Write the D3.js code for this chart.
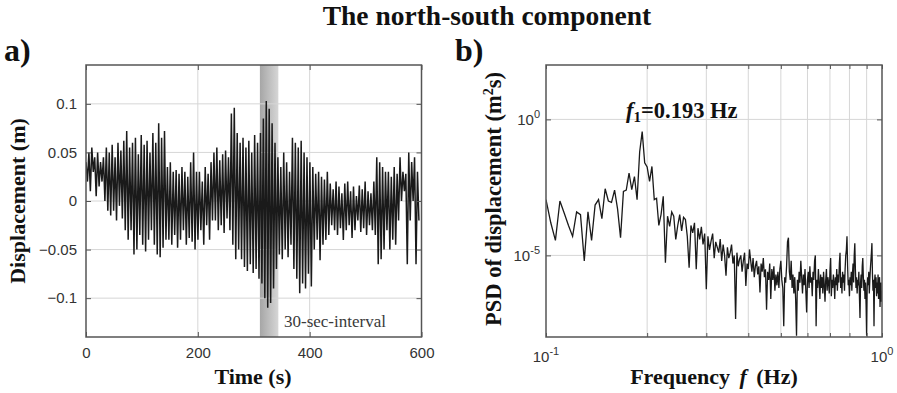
<!DOCTYPE html>
<html>
<head>
<meta charset="utf-8">
<script src="https://cdn.jsdelivr.net/npm/d3@7"></script>
<style>
  body { margin: 0; background: #fff; }
  svg { display: block; }
</style>
</head>
<body>
<div id="chart"></div>
<script>
// time series, one peak and one trough per swing
const timeTicks = [0, 200, 400, 600];
const dispTicks = [-0.1, -0.05, 0, 0.05, 0.1];
const swingStep = 2.6; // s between a peak and the next trough
const dispPeaks = [
  0.04, 0.05, 0.055, 0.045, 0.05, 0.04, 0.045, 0.055,
  0.05, 0.058, 0.045, 0.06, 0.052, 0.062,
  0.072, 0.055, 0.06, 0.065, 0.048, 0.068, 0.058, 0.062, 0.05, 0.07, 0.06, 0.08, 0.065, 0.072,
  0.035, 0.04, 0.03, 0.032, 0.028, 0.035, 0.03, 0.025, 0.04, 0.05, 0.03,
  0.03, 0.02, 0.035, 0.028, 0.04,
  0.05, 0.055, 0.042, 0.048, 0.052, 0.045,
  0.09, 0.096, 0.07,
  0.06, 0.065, 0.055, 0.062, 0.05, 0.068, 0.06,
  0.07, 0.085, 0.103, 0.095, 0.08, 0.06,
  0.045, 0.035, 0.05, 0.04, 0.03,
  0.065, 0.06, 0.055, 0.062, 0.05, 0.045, 0.04,
  0.035, 0.028, 0.03, 0.025, 0.022, 0.03,
  0.018, 0.012, 0.02, 0.015, 0.008, 0.018, 0.02, 0.01, 0.015, 0.005, 0.016, 0.012, 0.02, 0.01, 0.008,
  0.02, 0.045, 0.04, 0.035, 0.03,
  0.03, 0.025, 0.035, 0.028,
  0.045, 0.03, 0.028, 0.05, 0.04, 0.045, 0.03
];
const dispTroughs = [
  0.02, 0.01, 0.03, 0.005, 0.015, 0.02, 0.0, -0.01,
  -0.015, -0.01, -0.02, -0.005, -0.018, -0.03,
  -0.04, -0.03, -0.055, -0.05, -0.035, -0.045, -0.052, -0.04, -0.03, -0.045, -0.055, -0.058, -0.048, -0.04,
  -0.04, -0.045, -0.035, -0.048, -0.04, -0.03, -0.045, -0.038, -0.042, -0.05, -0.04,
  -0.03, -0.045, -0.025, -0.04, -0.02,
  -0.02, -0.03, -0.025, -0.033, -0.018, -0.03,
  -0.045, -0.06, -0.05,
  -0.06, -0.068, -0.072, -0.065, -0.074, -0.07, -0.08,
  -0.085, -0.1, -0.11, -0.105, -0.09, -0.07,
  -0.055, -0.06, -0.05, -0.058, -0.045,
  -0.07, -0.08, -0.095, -0.085, -0.09, -0.075, -0.088,
  -0.05, -0.04, -0.061, -0.045, -0.04, -0.035,
  -0.025, -0.03, -0.035, -0.028, -0.04, -0.03, -0.025, -0.038, -0.03, -0.02, -0.032, -0.028, -0.035, -0.025, -0.03,
  -0.035, -0.065, -0.06, -0.05, -0.03,
  -0.05, -0.04, -0.045, -0.02,
  0.0, 0.01, -0.065, -0.02, 0.0, -0.065, -0.02
];
const windowStart = 311, windowEnd = 344;

// spectrum, log10 of PSD on bins from 0.1 Hz every 1/300 Hz
const psdF0 = 0.1;
const psdDf = 1 / 300;
const psdLog10 = [
  -2.95, -3.8, -4.45, -3.0, -3.45, -3.9, -4.3, -3.4, -3.5, -5.2,
  -3.4, -4.45, -3.15, -2.95, -3.65, -2.55, -3.0, -3.05, -2.6, -3.3,
  -4.35, -2.65, -2.6, -1.97, -2.58, -2.1, -2.95, -1.2, -0.45, -1.6,
  -1.75, -2.28, -1.73, -2.95, -2.9, -3.9, -3.5, -2.83, -5.27, -3.56,
  -3.93, -3.4, -3.56, -4.41, -3.9, -3.5, -4.1, -3.6, -3.68, -4.3,
  -5.45, -3.9, -4.17, -3.8, -5.51, -4.0, -4.41, -3.95, -4.6, -4.2,
  -6.24, -4.3, -4.8, -4.47, -4.2, -5.1, -4.5, -4.7, -4.9, -4.4,
  -5.2, -4.6, -5.0, -5.75, -4.7, -5.1, -4.9, -4.6, -5.3, -5.0,
  -7.34, -4.9, -5.4, -5.14, -5.0, -5.6, -5.2, -4.9, -6.12, -5.3,
  -5.5, -4.78, -5.2, -5.6, -5.1, -5.8, -5.39, -5.2, -5.7, -5.4,
  -6.36, -5.3, -5.6, -5.1, -5.8, -5.51, -7.0, -5.6, -5.9, -5.3,
  -6.6, -5.5, -5.9, -5.4, -6.3, -5.7, -6.1, -5.6, -6.2, -5.5,
  -5.2, -5.9, -6.2, -7.6, -5.8, -6.0, -5.4, -4.5, -4.35, -5.6,
  -5.9, -5.2, -6.2, -5.7, -6.4, -5.8, -6.6, -7.95, -5.9, -6.3,
  -5.6, -6.0, -5.2, -5.8, -6.4, -5.7, -6.1, -5.5, -6.3, -7.1,
  -5.9, -5.6, -6.2, -5.4, -6.0, -5.8, -6.5, -5.6, -5.9, -5.2,
  -5.0, -7.6, -5.9, -6.2, -5.5, -6.0, -6.6, -5.7, -6.2, -5.8,
  -6.4, -5.6, -6.1, -6.7, -5.9, -5.5, -6.3, -5.8, -6.0, -6.4,
  -5.6, -5.1, -6.5, -5.9, -6.2, -5.7, -6.0, -6.6, -5.8, -6.1,
  -5.5, -6.3, -5.7, -6.0, -5.3, -4.9, -6.2, -5.8, -6.4, -5.6,
  -6.0, -5.7, -6.3, -5.5, -5.0, -4.8, -4.3, -5.4, -6.1, -5.9,
  -6.5, -5.8, -6.1, -5.6, -6.3, -5.7, -5.3, -6.0, -5.0, -4.55,
  -5.5, -6.2, -5.8, -6.4, -5.9, -6.1, -5.6, -6.5, -7.3, -6.0,
  -5.7, -6.2, -5.4, -5.1, -5.8, -6.3, -5.9, -6.6, -6.0, -6.8,
  -7.95, -6.2, -5.8, -6.1, -5.6, -6.4, -5.9, -5.5, -5.2, -4.9,
  -4.55, -5.7, -6.3, -5.9, -7.6, -6.0, -5.7, -6.2, -5.8, -6.5,
  -6.0, -6.4, -5.7, -6.6, -6.1, -5.8, -6.9, -6.2, -6.0, -6.7,
  -6.3
];
const freqLabelTicks = [0.1, 1];
const freqGrid = [0.2, 0.3, 0.4, 0.5, 0.6, 0.7, 0.8, 0.9];
const psdTicks = [1, 1e-5];
const peakFreq = 0.193;

const W = 897, H = 393;
const serif = "'Liberation Serif', 'Times New Roman', serif";
const sans = "'Liberation Sans', Arial, sans-serif";

const svg = d3.select('#chart').append('svg')
  .attr('width', W).attr('height', H);

const defs = svg.append('defs');
const grad = defs.append('linearGradient').attr('id', 'band');
grad.append('stop').attr('offset', '0%').attr('stop-color', '#a6a6a6');
grad.append('stop').attr('offset', '100%').attr('stop-color', '#d6d6d6');

svg.append('text')
  .attr('x', 487).attr('y', 25)
  .attr('text-anchor', 'middle')
  .attr('font-family', serif).attr('font-weight', 'bold').attr('font-size', 27.5)
  .attr('fill', '#111')
  .text('The north-south component');

// ---------- panel a ----------
const x = d3.scaleLinear().domain([0, 600]).range([86, 421.5]);
const y = d3.scaleLinear().domain([-0.14, 0.14]).range([337, 65]);

const pa = svg.append('g');
defs.append('clipPath').attr('id', 'clipA').append('rect')
  .attr('x', 86).attr('y', 65).attr('width', 335.5).attr('height', 272);

pa.append('rect')
  .attr('x', x(windowStart)).attr('y', 65)
  .attr('width', x(windowEnd) - x(windowStart)).attr('height', 272)
  .attr('fill', 'url(#band)');

pa.append('g').selectAll('line').data(timeTicks.slice(1, -1)).join('line')
  .attr('x1', d => x(d)).attr('x2', d => x(d)).attr('y1', 65).attr('y2', 337)
  .attr('stroke', '#d6d6d6').attr('stroke-width', 1);
pa.append('g').selectAll('line').data(dispTicks).join('line')
  .attr('x1', 86).attr('x2', 421.5).attr('y1', d => y(d)).attr('y2', d => y(d))
  .attr('stroke', '#d6d6d6').attr('stroke-width', 1);

const series = [];
dispPeaks.forEach((p, i) => {
  series.push([i * 2 * swingStep, p]);
  series.push([i * 2 * swingStep + swingStep, dispTroughs[i]]);
});

pa.append('path')
  .attr('clip-path', 'url(#clipA)')
  .attr('fill', 'none').attr('stroke', '#1a1a1a').attr('stroke-width', 1.5)
  .attr('d', d3.line().x(d => x(d[0])).y(d => y(d[1]))(series));

pa.append('g').attr('transform', 'translate(0,337)')
  .call(d3.axisBottom(x).tickValues(timeTicks).tickSize(-5).tickPadding(10).tickFormat(d3.format('d')));
pa.append('g').attr('transform', 'translate(0,65)')
  .call(d3.axisTop(x).tickValues(timeTicks).tickSize(-5).tickFormat(''));
pa.append('g').attr('transform', 'translate(86,0)')
  .call(d3.axisLeft(y).tickValues(dispTicks).tickSize(-5).tickPadding(9).tickFormat(d => d === 0 ? '0' : d3.format('')(d)));
pa.append('g').attr('transform', 'translate(421.5,0)')
  .call(d3.axisRight(y).tickValues(dispTicks).tickSize(-5).tickFormat(''));

pa.append('rect')
  .attr('x', 86).attr('y', 65).attr('width', 335.5).attr('height', 272)
  .attr('fill', 'none').attr('stroke', '#555').attr('stroke-width', 1.5);

pa.append('text')
  .attr('x', 284).attr('y', 327)
  .attr('font-family', serif).attr('font-size', 17).attr('fill', '#3a3a3a')
  .text('30-sec-interval');

pa.append('text')
  .attr('x', 4).attr('y', 61)
  .attr('font-family', serif).attr('font-weight', 'bold').attr('font-size', 32)
  .attr('fill', '#111').text('a)');

pa.append('text')
  .attr('x', 253).attr('y', 384).attr('text-anchor', 'middle')
  .attr('font-family', serif).attr('font-weight', 'bold').attr('font-size', 22)
  .attr('fill', '#111').text('Time (s)');

pa.append('text')
  .attr('transform', 'translate(25,201) rotate(-90)').attr('text-anchor', 'middle')
  .attr('font-family', serif).attr('font-weight', 'bold').attr('font-size', 22)
  .attr('fill', '#111').text('Displacement (m)');

// ---------- panel b ----------
const xf = d3.scaleLog().domain([0.1, 1]).range([546, 882]);
const yp = d3.scaleLog().domain([1e-8, 1e2]).range([337, 65]);

const pb = svg.append('g');
defs.append('clipPath').attr('id', 'clipB').append('rect')
  .attr('x', 546).attr('y', 65).attr('width', 336).attr('height', 272);

pb.append('g').selectAll('line').data(freqGrid).join('line')
  .attr('x1', d => xf(d)).attr('x2', d => xf(d)).attr('y1', 65).attr('y2', 337)
  .attr('stroke', '#d6d6d6').attr('stroke-width', 1);
pb.append('g').selectAll('line').data(psdTicks).join('line')
  .attr('x1', 546).attr('x2', 882).attr('y1', d => yp(d)).attr('y2', d => yp(d))
  .attr('stroke', '#d6d6d6').attr('stroke-width', 1);

const spectrum = psdLog10.map((v, k) => [psdF0 + k * psdDf, Math.pow(10, v)]);
pb.append('path')
  .attr('clip-path', 'url(#clipB)')
  .attr('fill', 'none').attr('stroke', '#1a1a1a').attr('stroke-width', 1.3)
  .attr('d', d3.line().x(d => xf(d[0])).y(d => yp(d[1]))(spectrum));

pb.append('g').attr('transform', 'translate(0,337)')
  .call(d3.axisBottom(xf).tickValues(freqLabelTicks.concat(freqGrid)).tickSize(-4).tickFormat(''));
pb.append('g').attr('transform', 'translate(0,65)')
  .call(d3.axisTop(xf).tickValues(freqLabelTicks.concat(freqGrid)).tickSize(-4).tickFormat(''));
pb.append('g').attr('transform', 'translate(546,0)')
  .call(d3.axisLeft(yp).tickValues(psdTicks).tickSize(-5).tickFormat(''));
pb.append('g').attr('transform', 'translate(882,0)')
  .call(d3.axisRight(yp).tickValues(psdTicks).tickSize(-5).tickFormat(''));

pb.append('rect')
  .attr('x', 546).attr('y', 65).attr('width', 336).attr('height', 272)
  .attr('fill', 'none').attr('stroke', '#555').attr('stroke-width', 1.5);

// power-of-ten tick labels
function powLabel(g, tx, ty, anchor, exp) {
  const t = g.append('text')
    .attr('x', tx).attr('y', ty).attr('text-anchor', anchor)
    .attr('font-family', sans).attr('font-size', 15).attr('fill', '#333');
  t.append('tspan').text('10');
  t.append('tspan').attr('dy', -7).attr('font-size', 11).text(exp);
}
freqLabelTicks.forEach(f => powLabel(pb, xf(f), 362, 'middle', String(Math.round(Math.log10(f)))));
psdTicks.forEach(p => powLabel(pb, 540, yp(p) + 6, 'end', String(Math.round(Math.log10(p)))));

const ann = pb.append('text')
  .attr('x', xf(peakFreq) - 16).attr('y', 118)
  .attr('font-family', serif).attr('font-weight', 'bold').attr('font-size', 22.5)
  .attr('fill', '#111');
ann.append('tspan').attr('font-style', 'italic').text('f');
ann.append('tspan').attr('dy', 4).attr('font-size', 15).text('1');
ann.append('tspan').attr('dy', -4).text('=' + peakFreq + ' Hz');

pb.append('text')
  .attr('x', 455).attr('y', 61)
  .attr('font-family', serif).attr('font-weight', 'bold').attr('font-size', 32)
  .attr('fill', '#111').text('b)');

const xl = pb.append('text')
  .attr('x', 714).attr('y', 384).attr('text-anchor', 'middle')
  .attr('font-family', serif).attr('font-weight', 'bold').attr('font-size', 22)
  .attr('fill', '#111');
xl.append('tspan').text('Frequency ');
xl.append('tspan').attr('font-style', 'italic').attr('dx', 4).text('f');
xl.append('tspan').attr('dx', 4).text(' (Hz)');

const yl = pb.append('text')
  .attr('transform', 'translate(501,199) rotate(-90)').attr('text-anchor', 'middle')
  .attr('font-family', serif).attr('font-weight', 'bold').attr('font-size', 22.5)
  .attr('fill', '#111');
yl.append('tspan').text('PSD of displacement (m');
yl.append('tspan').attr('dy', -8).attr('font-size', 14).text('2');
yl.append('tspan').attr('dy', 8).text('s)');

// axis styling
svg.selectAll('.domain').remove();
svg.selectAll('.tick line').attr('stroke', '#555');
svg.selectAll('.tick text').attr('font-family', sans).attr('font-size', 15).attr('fill', '#333');
</script>
</body>
</html>
